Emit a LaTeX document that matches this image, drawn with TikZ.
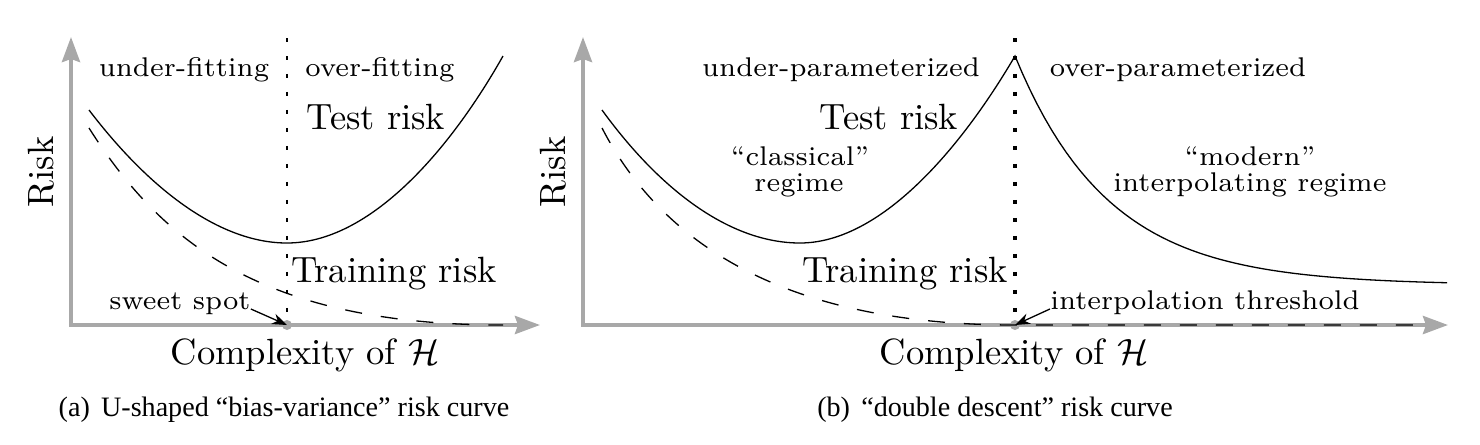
\documentclass[tikz,border=0pt]{standalone}
\usepackage{amsmath}
\usepackage{amssymb}
\usepackage{fontspec}
\newfontfamily\capfont{Liberation Serif}
\usetikzlibrary{arrows.meta}

\definecolor{axisgray}{RGB}{168,168,168}
\newcommand{\smalltext}[1]{\scalebox{2.2}{\fontsize{7}{8}\selectfont #1}}
\newcommand{\bigtext}[1]{\scalebox{2.08}{\fontsize{10}{12}\selectfont #1}}
\newcommand{\captext}[1]{\scalebox{1.6}{\capfont #1}}

\begin{document}
\begin{tikzpicture}[x=0.02cm,y=-0.02cm,>={Stealth[length=0.3cm,width=0.22cm]},
    axis/.style={draw=axisgray,line width=0.08cm,{Stealth[length=0.5cm,width=0.36cm,inset=0.06cm]}-{Stealth[length=0.5cm,width=0.36cm,inset=0.06cm]}},
    lbl/.style={anchor=base,inner sep=0pt},
    test/.style={line width=0.026cm},
    train/.style={line width=0.026cm,dash pattern=on 0.34cm off 0.38cm},
    pointer/.style={->,line width=0.026cm}]
  \useasboundingbox (0,0) rectangle (1480,444);

  % (a) bias-variance
  \coordinate (ya) at (71,37);
  \coordinate (oa) at (71,325);
  \coordinate (xa) at (540,325);
  \coordinate (topa) at (287,38);
  \coordinate (spot) at (287,325);
  \draw[axis] (ya) -- (oa) -- (xa);
  \draw[line width=0.03cm,dash pattern=on 0.08cm off 0.28cm] (topa) -- (spot);
  \fill[axisgray] (spot) circle (0.1cm);

  \draw[test] (89,110) .. controls (150,190) and (220,243) .. (287,243)
    .. controls (370,243) and (450,150) .. (503,56);
  \draw[train] (89,128) .. controls (160,240) and (260,325) .. (503,325);

  \node[lbl] (under) at (184,76) {\smalltext{under-fitting}};
  \node[lbl] (over) at (380,76) {\smalltext{over-fitting}};
  \node[lbl] (testa) at (376,129) {\bigtext{Test risk}};
  \node[lbl] (traina) at (394,282) {\bigtext{Training risk}};
  \node[lbl] (sweet) at (180,309) {\smalltext{sweet spot}};
  \node[lbl] (cxa) at (305,364) {\bigtext{Complexity of $\mathcal{H}$}};
  \node[lbl,rotate=90] (riska) at (53,172) {\bigtext{Risk}};
  \node[lbl] (capa) at (284,416) {\captext{(a)\hspace{0.4em}U-shaped “bias-variance” risk curve}};
  \draw[pointer] (sweet.base east) -- (spot);

  % (b) double descent
  \coordinate (yb) at (583,37);
  \coordinate (ob) at (583,325);
  \coordinate (xb) at (1448,325);
  \coordinate (topb) at (1015,38);
  \coordinate (thr) at (1015,325);
  \draw[axis] (yb) -- (ob) -- (xb);
  \draw[line width=0.08cm,dash pattern=on 0.08cm off 0.28cm] (topb) -- (thr);
  \fill[axisgray] (thr) circle (0.1cm);

  \draw[test] (602,110) .. controls (660,190) and (730,243) .. (800,243)
    .. controls (880,243) and (960,150) .. (1015,56)
    -- plot[domain=1015:1447,samples=60] (\x,{285-229*exp(-(\x-1015)/93.7)});
  \draw[train] (602,128) .. controls (660,240) and (780,325) .. (1015,325) -- (1428,325);

  \node[lbl] (underp) at (841,76) {\smalltext{under-parameterized}};
  \node[lbl] (overp) at (1178,76) {\smalltext{over-parameterized}};
  \node[lbl] (testb) at (889,129) {\bigtext{Test risk}};
  \node[lbl] (classic) at (800,165) {\smalltext{``classical''}};
  \node[lbl] (classic2) at (799,191) {\smalltext{regime}};
  \node[lbl] (modern) at (1250,165) {\smalltext{``modern''}};
  \node[lbl] (modern2) at (1250,191) {\smalltext{interpolating regime}};
  \node[lbl] (trainb) at (905,282) {\bigtext{Training risk}};
  \node[lbl] (interp) at (1205,309) {\smalltext{interpolation threshold}};
  \node[lbl] (cxb) at (1014,364) {\bigtext{Complexity of $\mathcal{H}$}};
  \node[lbl,rotate=90] (riskb) at (565,172) {\bigtext{Risk}};
  \node[lbl] (capb) at (995,416) {\captext{(b)\hspace{0.4em}“double descent” risk curve}};
  \draw[pointer] (interp.base west) -- (thr);
\end{tikzpicture}
\end{document}
